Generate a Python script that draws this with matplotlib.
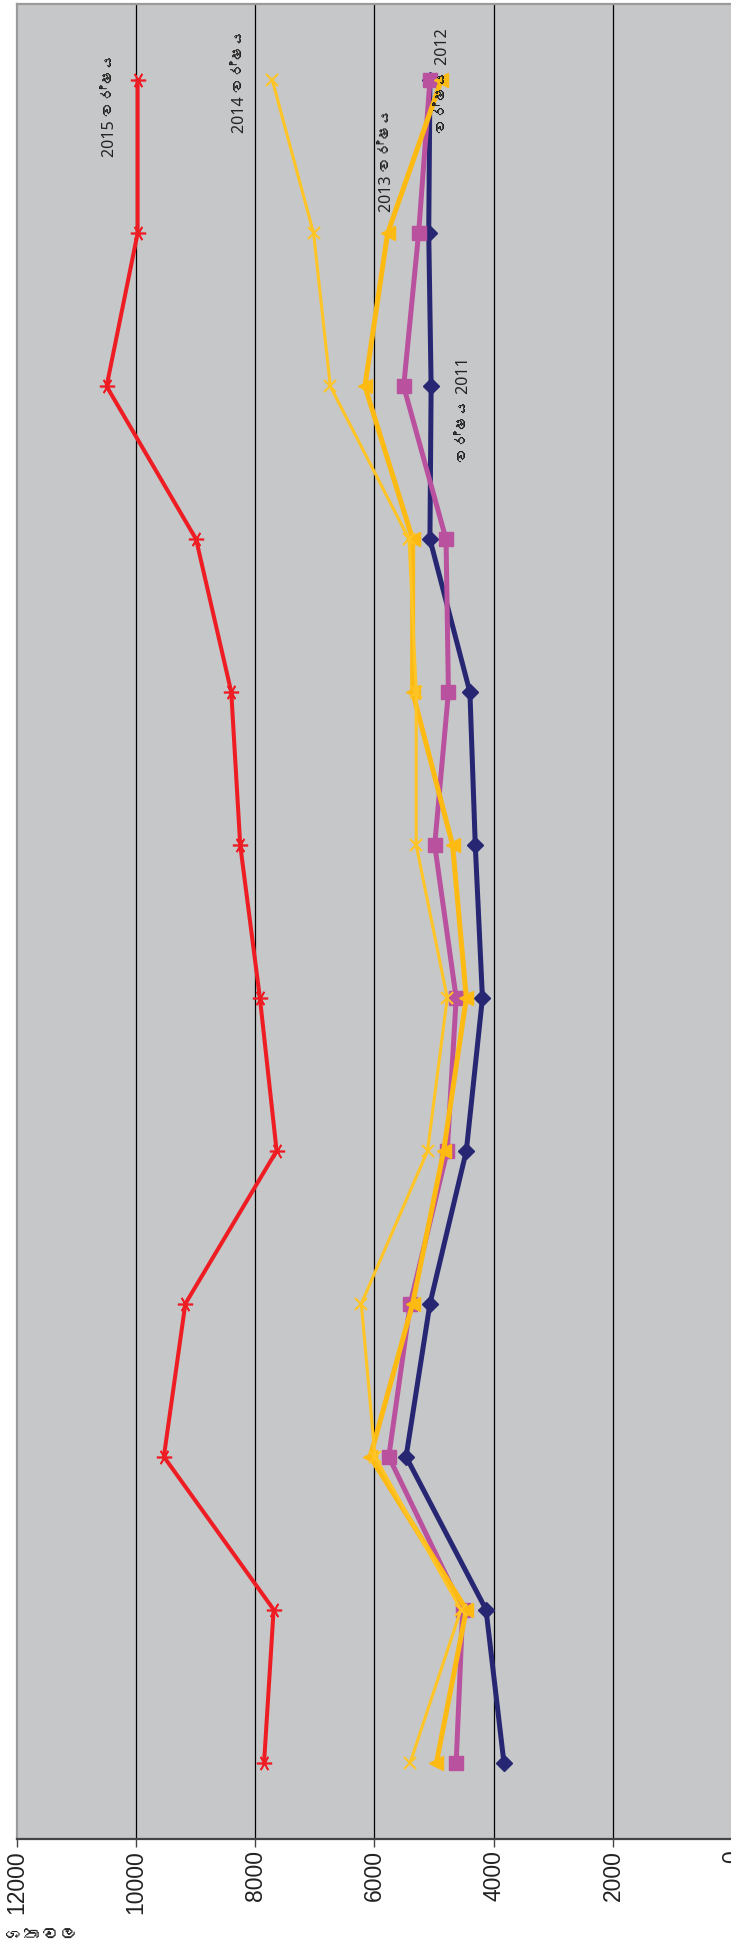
import matplotlib
matplotlib.use("Agg")
import matplotlib.pyplot as plt
from matplotlib import font_manager
from matplotlib.ft2font import FT2Font

# months 1..12 (bottom to top in the rotated chart)
months = list(range(1, 13))
v2011 = [3830, 4130, 5470, 5070, 4460, 4190, 4310, 4400, 5070, 5050, 5090, 5070]
v2012 = [4630, 4520, 5760, 5400, 4780, 4630, 4990, 4760, 4800, 5510, 5260, 5070]
v2013 = [4960, 4460, 6070, 5360, 4840, 4460, 4690, 5360, 5360, 6160, 5780, 4880]
v2014 = [5400, 4550, 5990, 6220, 5110, 4780, 5300, 5300, 5420, 6740, 7020, 7710]
v2015 = [7850, 7690, 9530, 9170, 7640, 7920, 8250, 8400, 8990, 10490, 9970, 9970]
ticks = [12000, 10000, 8000, 6000, 4000, 2000, 0]
lbl_2011 = "වර්ෂය 2011"
lbl_2012 = "වර්ෂය 2012"
lbl_2013 = "2013 වර්ෂය"
lbl_2014 = "2014 වර්ෂය"
lbl_2015 = "2015 වර්ෂය"
axis_title = "ශතවල"

# look for any installed font that has Sinhala glyphs
sinhala = None
for f in font_manager.fontManager.ttflist:
    try:
        cmap = FT2Font(f.fname).get_charmap()
    except Exception:
        continue
    if ord("ශ") in cmap and ord("ර") in cmap:
        sinhala = f.name
        break
fam = ["Noto Sans", "DejaVu Sans"]
if sinhala:
    fam = ["Noto Sans", sinhala, "DejaVu Sans"]

W, H = 731, 1955
fig = plt.figure(figsize=(W / 100, H / 100), dpi=100)
fig.patch.set_facecolor("white")
ax = fig.add_axes([16.5 / W, (H - 1839) / H, (732.4 - 16.5) / W, (1839 - 4) / H])
ax.set_facecolor("#C6C7C9")

ax.set_xlim(12000, 0)
ax.set_ylim(0.5, 12.5)

for t in ticks[1:-1]:
    ax.axvline(t, color="black", lw=0.9, zorder=1)

ax.plot(v2011, months, color="#262673", lw=3.6, marker="D", ms=8, zorder=3)
ax.plot(v2012, months, color="#B9519E", lw=3.6, marker="s", ms=10, zorder=4)
ax.plot(v2013, months, color="#FDBA12", lw=3.6, marker="<", ms=10, zorder=5)
ax.plot(v2014, months, color="#FFC425", lw=2.2, marker="x", ms=9, mew=1.5, zorder=6)
ax.plot(v2015, months, color="#EE1D24", lw=2.9, marker=(6, 2, 90), ms=11, mew=1.2, zorder=7)

ax.set_xticks(ticks)
ax.set_xticklabels([str(t) for t in ticks], rotation=90, fontsize=16.5,
                   family="Liberation Sans", color="#222222", va="top")
ax.tick_params(axis="x", direction="out", length=6, width=1, color="#444444", pad=2)
ax.set_yticks([])

for s in ["top", "left", "right"]:
    ax.spines[s].set_color("#9A9A9A")
    ax.spines[s].set_linewidth(1.6)
ax.spines["bottom"].set_color("#444444")
ax.spines["bottom"].set_linewidth(1.6)

txt = dict(rotation=90, ha="center", va="center", fontsize=11.5, family=fam, color="#222222", zorder=8)
ax.text(10440, 11.84, lbl_2015, **txt)
ax.text(8250, 12.0, lbl_2014, **txt)
ax.text(5795, 11.48, lbl_2013, **txt)
ax.text(4856, 12.0, lbl_2012, **txt)
ax.text(4503, 9.85, lbl_2011, **txt)

fig.text(42 / W, 1 - 1936 / H, axis_title, ha="center", va="center", fontsize=13,
         family=fam, color="#222222")

fig.savefig("out.png", dpi=100)
